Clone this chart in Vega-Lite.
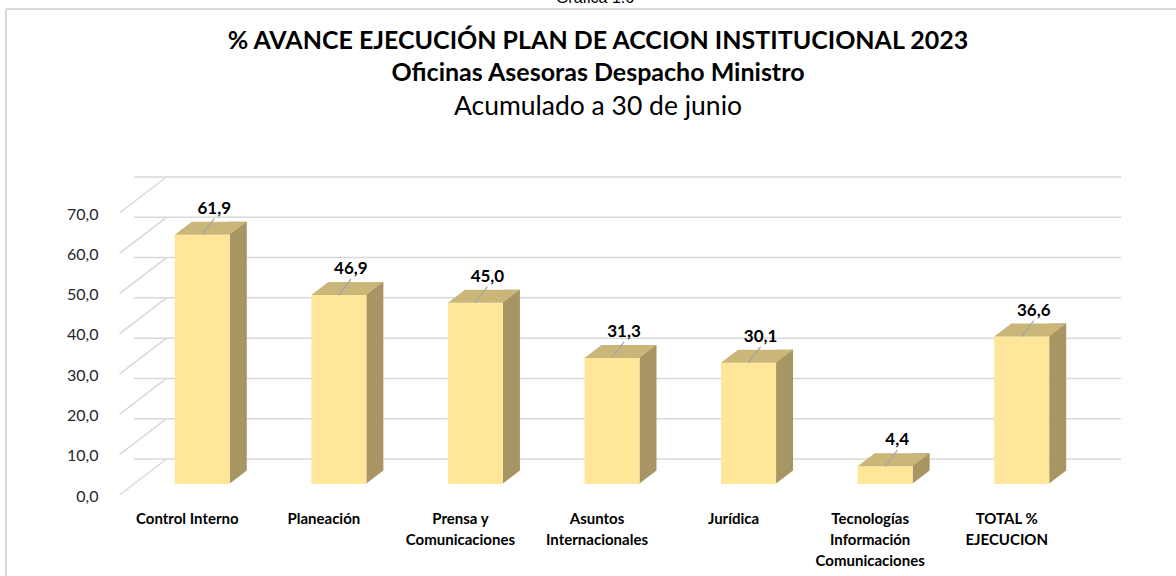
{
  "$schema": "https://vega.github.io/schema/vega-lite/v6.json",
  "width": 956,
  "height": 282,
  "autosize": "none",
  "padding": {"left": 134, "top": 202, "right": 86, "bottom": 92},
  "background": "white",
  "config": {
    "view": {"stroke": null},
    "locale": {"number": {"decimal": ",", "thousands": ".", "grouping": [3], "currency": ["", " €"]}}
  },
  "datasets": {
    "bars": [
      {"cat": "Control Interno", "v": 61.9},
      {"cat": "Planeación", "v": 46.9},
      {"cat": "Prensa y|Comunicaciones", "v": 45.0},
      {"cat": "Asuntos|Internacionales", "v": 31.3},
      {"cat": "Jurídica", "v": 30.1},
      {"cat": "Tecnologías|Información|Comunicaciones", "v": 4.4},
      {"cat": "TOTAL %|EJECUCION", "v": 36.6}
    ],
    "ticks": [{"t": 0}, {"t": 10}, {"t": 20}, {"t": 30}, {"t": 40}, {"t": 50}, {"t": 60}, {"t": 70}],
    "frame": [{"name": "Gráfica 1.6"}]
  },
  "title": {
    "text": ["% AVANCE EJECUCIÓN PLAN DE ACCION INSTITUCIONAL 2023", "Oficinas Asesoras Despacho Ministro"],
    "subtitle": "Acumulado a 30 de junio",
    "anchor": "middle",
    "frame": "group",
    "font": "Lato",
    "fontSize": 25,
    "fontWeight": "bold",
    "color": "black",
    "lineHeight": 32,
    "subtitleFont": "Lato",
    "subtitleFontSize": 26.5,
    "subtitleFontWeight": "normal",
    "subtitleColor": "black",
    "subtitleLineHeight": 33,
    "subtitlePadding": 8,
    "offset": -130,
    "dx": -14
  },
  "layer": [
    {
      "data": {"name": "ticks"},
      "mark": {"type": "rule", "stroke": "#D9D9D9", "strokeWidth": 1.5, "yOffset": -25, "xOffset": 31, "x2Offset": 33},
      "encoding": {
        "y": {"field": "t", "type": "quantitative", "scale": {"domain": [0, 70], "nice": false}}
      }
    },
    {
      "data": {"name": "ticks"},
      "mark": {"type": "point", "shape": "M -1 0.766 L 1 -0.766", "size": 2209, "filled": false, "stroke": "#D9D9D9", "strokeWidth": 1.5, "opacity": 1, "xOffset": -469, "yOffset": -7},
      "encoding": {
        "y": {"field": "t", "type": "quantitative"}
      }
    },
    {
      "data": {"name": "bars"},
      "mark": {"type": "bar", "width": 17, "xOffset": 36, "yOffset": -13, "y2Offset": 0, "color": "#A79563"},
      "encoding": {
        "x": {"field": "cat", "type": "nominal", "sort": null, "scale": {"paddingInner": 0, "paddingOuter": 0}},
        "y": {"field": "v", "type": "quantitative"},
        "y2": {"datum": 0}
      }
    },
    {
      "data": {"name": "bars"},
      "mark": {"type": "point", "shape": "M -1 0.7647 L 1 0.7647 L 1 -0.7647 Z", "size": 289, "filled": true, "color": "white", "stroke": "white", "strokeWidth": 1, "opacity": 1, "xOffset": 36, "yOffset": -6.5},
      "encoding": {
        "x": {"field": "cat", "type": "nominal", "sort": null},
        "y": {"datum": 0}
      }
    },
    {
      "data": {"name": "bars"},
      "mark": {"type": "bar", "width": 55, "color": "#FFE699"},
      "encoding": {
        "x": {
          "field": "cat", "type": "nominal", "sort": null,
          "axis": {
            "title": null, "labelAngle": 0, "labelAlign": "center", "domain": false, "ticks": false,
            "labelPadding": 34, "labelOffset": -15,
            "labelFont": "Lato", "labelFontWeight": "bold", "labelFontSize": 15, "labelColor": "black",
            "labelExpr": "split(datum.label, '|')", "labelLineHeight": 21
          }
        },
        "y": {
          "field": "v", "type": "quantitative",
          "axis": {
            "title": null, "values": [0, 10, 20, 30, 40, 50, 60, 70], "format": ".1f",
            "grid": false, "domain": false, "ticks": false,
            "labelPadding": 36, "labelOffset": 12,
            "labelFont": "Lato", "labelFontSize": 16, "labelColor": "#262626"
          }
        }
      }
    },
    {
      "data": {"name": "bars"},
      "mark": {"type": "point", "shape": "M -1 0.1806 L 0.5278 0.1806 L 1 -0.1806 L -0.5278 -0.1806 Z", "size": 5184, "filled": true, "color": "#C9B678", "strokeWidth": 0, "opacity": 1, "xOffset": 8.5, "yOffset": -6.5},
      "encoding": {
        "x": {"field": "cat", "type": "nominal", "sort": null},
        "y": {"field": "v", "type": "quantitative"}
      }
    },
    {
      "data": {"name": "bars"},
      "mark": {"type": "point", "shape": "M -0.75 1 L 0.75 -1", "size": 256, "filled": false, "stroke": "#A6A6A6", "strokeWidth": 1.3, "opacity": 1, "xOffset": 6, "yOffset": -8},
      "encoding": {
        "x": {"field": "cat", "type": "nominal", "sort": null},
        "y": {"field": "v", "type": "quantitative"}
      }
    },
    {
      "data": {"name": "bars"},
      "mark": {"type": "text", "font": "Lato", "fontWeight": "bold", "fontSize": 17, "color": "black", "baseline": "middle", "align": "center", "xOffset": 12, "yOffset": -26},
      "encoding": {
        "x": {"field": "cat", "type": "nominal", "sort": null},
        "y": {"field": "v", "type": "quantitative"},
        "text": {"field": "v", "type": "quantitative", "format": ".1f"}
      }
    },
    {
      "data": {"name": "frame"},
      "mark": {"type": "rule", "stroke": "#D9D9D9", "strokeWidth": 2, "yOffset": -193, "xOffset": -196.3, "x2Offset": 154.3},
      "encoding": {"y": {"datum": 70}, "x": {"datum": "Control Interno"}, "x2": {"datum": "TOTAL %|EJECUCION"}}
    },
    {
      "data": {"name": "frame"},
      "mark": {"type": "rule", "stroke": "#D9D9D9", "strokeWidth": 2, "xOffset": -196.3, "yOffset": -193, "y2Offset": 92},
      "encoding": {"x": {"datum": "Control Interno"}, "y": {"datum": 70}, "y2": {"datum": 0}}
    },
    {
      "data": {"name": "frame"},
      "mark": {"type": "text", "font": "Liberation Sans", "fontSize": 16, "color": "black", "baseline": "alphabetic", "align": "center", "yOffset": -199, "xOffset": -17},
      "encoding": {"y": {"datum": 70}, "text": {"field": "name"}}
    }
  ]
}
